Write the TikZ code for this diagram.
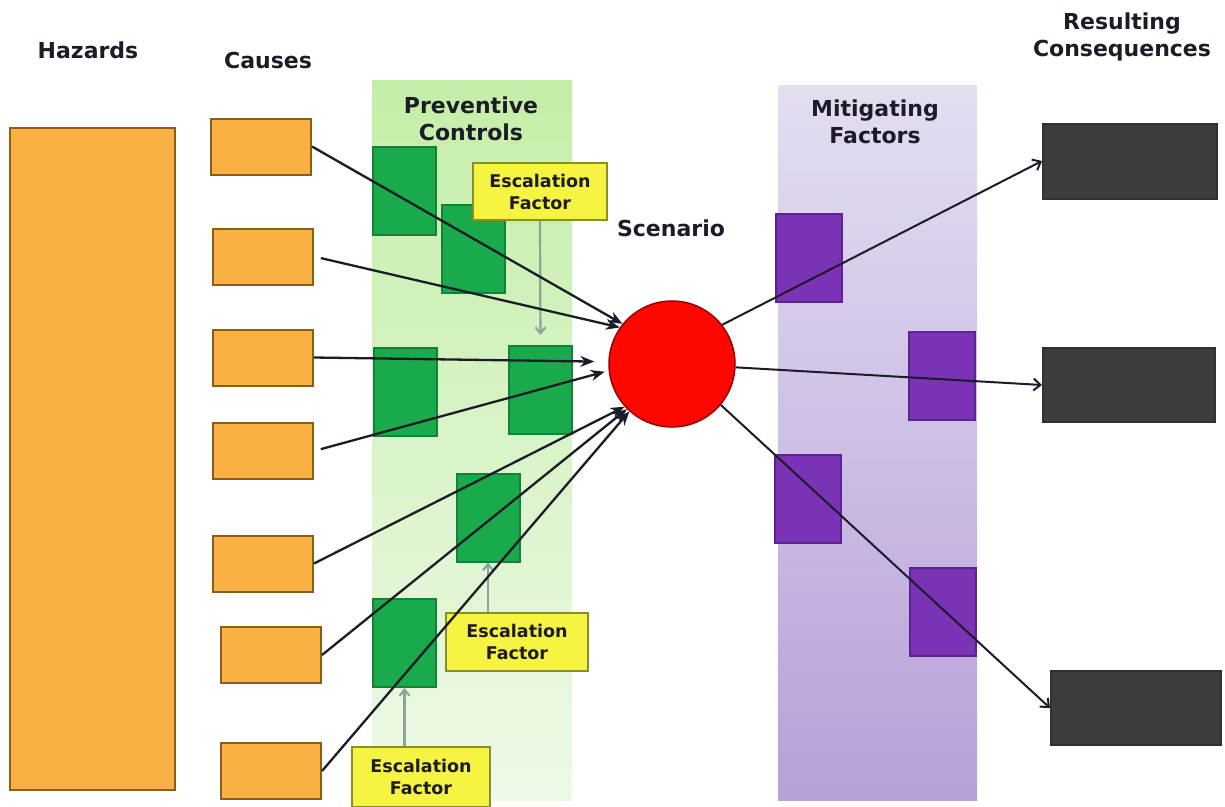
\documentclass[tikz,border=0pt]{standalone}
\usepackage{fontspec}
\setmainfont{DejaVu Sans}
\usetikzlibrary{arrows.meta}
\definecolor{cause}{HTML}{FBB044}
\definecolor{causeline}{HTML}{8B5E1A}
\definecolor{ctrl}{HTML}{1AAA4C}
\definecolor{ctrlline}{HTML}{128239}
\definecolor{ctrltop}{HTML}{C4EEA7}
\definecolor{ctrlbot}{HTML}{EEF9E8}
\definecolor{escal}{HTML}{F6F443}
\definecolor{escalline}{HTML}{8C8C2A}
\definecolor{escarrow}{HTML}{8FA29A}
\definecolor{mitig}{HTML}{7A33B5}
\definecolor{mitigline}{HTML}{5B2391}
\definecolor{mittop}{HTML}{E4DEF1}
\definecolor{mitbot}{HTML}{B6A0D8}
\definecolor{conseq}{HTML}{3D3D3D}
\definecolor{ink}{HTML}{1C1C28}
\newcommand{\headfont}{\fontsize{22}{27}\selectfont\bfseries}
\newcommand{\escfont}{\fontsize{17.5}{22}\selectfont\bfseries}
\begin{document}
\begin{tikzpicture}[x=1pt, y=-1pt, >=stealth,
    box/.style={draw, line width=2pt, inner sep=0pt},
    causebox/.style={box, fill=cause, draw=causeline, minimum width=100pt, minimum height=56pt},
    ctrlbox/.style={box, fill=ctrl, draw=ctrlline, minimum width=63pt, minimum height=88pt},
    mitbox/.style={box, fill=mitig, draw=mitigline, minimum width=66pt, minimum height=88pt},
    conbox/.style={box, fill=conseq, draw=conseq!80!black, minimum width=172pt, minimum height=74pt},
    escbox/.style={box, fill=escal, draw=escalline, text=ink, font=\escfont, align=center},
    head/.style={text=ink, font=\headfont, align=center},
    flow/.style={-{Stealth[length=14pt,width=11pt]}, line width=2.3pt, draw=ink},
    outflow/.style={-{Straight Barb[length=7pt,width=12pt]}, line width=2pt, draw=ink},
    escflow/.style={-{Straight Barb[length=6pt,width=10pt]}, line width=2.2pt, draw=escarrow}]
  \useasboundingbox (0,0) rectangle (1225,806);
  % bands
  \shade[top color=ctrltop, bottom color=ctrlbot] (372,80) rectangle (572,800);
  \shade[top color=mittop, bottom color=mitbot] (778,85) rectangle (977,800);
  % headings
  \node[head] (lblhaz) at (88,50) {Hazards};
  \node[head] (lblcause) at (268,60) {Causes};
  \node[head] (lblctrl) at (471,119) {Preventive\\Controls};
  \node[head] (lblscen) at (671,228) {Scenario};
  \node[head] (lblmit) at (875,122) {Mitigating\\Factors};
  \node[head] (lblcon) at (1122,37) {Resulting\\Consequences};
  % hazards and causes
  \node[box, fill=cause, draw=causeline, minimum width=165pt, minimum height=662pt] (haz) at (92.5,459) {};
  \node[causebox] (c1) at (261,146.5) {};
  \node[causebox] (c2) at (263,256.5) {};
  \node[causebox] (c3) at (263,357.5) {};
  \node[causebox] (c4) at (263,451) {};
  \node[causebox] (c5) at (263,563.5) {};
  \node[causebox] (c6) at (271,655) {};
  \node[causebox] (c7) at (271,771) {};
  % preventive controls
  \node[ctrlbox] (pc1) at (404.5,190.5) {};
  \node[ctrlbox] (pc2) at (473,248.5) {};
  \node[ctrlbox] (pc3) at (405,392) {};
  \node[ctrlbox] (pc4) at (540.5,390) {};
  \node[ctrlbox] (pc5) at (488,517.5) {};
  \node[ctrlbox] (pc6) at (404.5,643) {};
  % escalation factors
  \node[escbox, minimum width=134pt, minimum height=57pt] (ef1) at (540,191.5) {Escalation\\Factor};
  \node[escbox, minimum width=142pt, minimum height=58pt] (ef2) at (517,642) {Escalation\\Factor};
  \node[escbox, minimum width=138pt, minimum height=60pt] (ef3) at (421,777) {Escalation\\Factor};
  \draw[escflow, shorten >=10pt] (ef1.south) -- (pc4.north);
  \draw[escflow] (ef2.north -| pc5.south) -- (pc5.south);
  \draw[escflow] (ef3.north -| pc6.south) -- (pc6.south);
  % scenario
  \node[circle, fill=red!95!orange, draw=red!60!black, line width=1.5pt, minimum size=126pt] (scen) at (672,364) {};
  % mitigating factors and consequences
  \node[mitbox] (mf1) at (808.5,257.5) {};
  \node[mitbox] (mf2) at (941.5,376) {};
  \node[mitbox] (mf3) at (807.5,499) {};
  \node[mitbox] (mf4) at (942.5,611.5) {};
  \node[conbox, minimum width=174pt, minimum height=75pt] (rc1) at (1130,161) {};
  \node[conbox] (rc2) at (1129,385) {};
  \node[conbox, minimum width=170pt] (rc3) at (1136,708) {};
  % threats into the scenario
  \draw[flow] (c1.east) -- (scen.141);
  \draw[flow, shorten <=7pt] (c2.east) -- (scen.145);
  \draw[flow, shorten >=14pt] (c3.east) -- (scen.178);
  \draw[flow, shorten <=7pt, shorten >=4pt] (c4.east) -- (scen.186);
  \draw[flow] (c5.east) -- (scen.222);
  \draw[flow] (c6.east) -- (scen.225);
  \draw[flow] (c7.east) -- (scen.228);
  % scenario out to consequences
  \draw[outflow] (scen.38) -- (rc1.west);
  \draw[outflow] (scen.-3) -- (rc2.west);
  \draw[outflow] (scen.-40) -- (rc3.west);
\end{tikzpicture}
\end{document}
